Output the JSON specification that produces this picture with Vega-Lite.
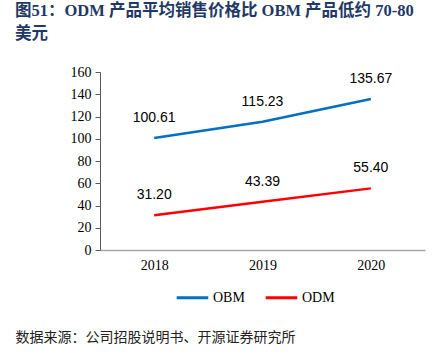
{
  "$schema": "https://vega.github.io/schema/vega-lite/v6.json",
  "autosize": "none",
  "width": 325,
  "height": 178,
  "padding": {"left": 100, "top": 72, "right": 18, "bottom": 104},
  "background": "white",
  "title": {
    "text": ["图51：ODM 产品平均销售价格比 OBM 产品低约 70-80", "美元"],
    "anchor": "start",
    "frame": "group",
    "dx": -85,
    "dy": -19,
    "font": "Liberation Serif, Noto Sans CJK SC",
    "fontSize": 16.5,
    "fontWeight": "bold",
    "color": "#1F3864",
    "lineHeight": 23
  },
  "data": {
    "values": [
      {"year": "2018", "series": "OBM", "value": 100.61},
      {"year": "2019", "series": "OBM", "value": 115.23},
      {"year": "2020", "series": "OBM", "value": 135.67},
      {"year": "2018", "series": "ODM", "value": 31.20},
      {"year": "2019", "series": "ODM", "value": 43.39},
      {"year": "2020", "series": "ODM", "value": 55.40}
    ]
  },
  "encoding": {
    "x": {
      "field": "year",
      "type": "ordinal",
      "scale": {"type": "point", "padding": 0.5},
      "axis": {
        "title": "数据来源：公司招股说明书、开源证券研究所",
        "titleFont": "Noto Sans CJK SC",
        "titleFontSize": 14,
        "titleFontWeight": "normal",
        "titleColor": "#222222",
        "titleAnchor": "start",
        "titleAlign": "left",
        "titleBaseline": "middle",
        "titleX": -85,
        "titleY": 87,
        "labelAngle": 0,
        "labelFont": "Liberation Serif",
        "labelFontSize": 14,
        "labelColor": "#000000",
        "labelPadding": 8,
        "ticks": false,
        "domainColor": "#A6A6A6",
        "domainWidth": 1.5,
        "grid": false
      }
    },
    "y": {
      "field": "value",
      "type": "quantitative",
      "scale": {"domain": [0, 160]},
      "axis": {
        "title": null,
        "values": [0, 20, 40, 60, 80, 100, 120, 140, 160],
        "labelFont": "Liberation Serif",
        "labelFontSize": 14,
        "labelColor": "#000000",
        "labelPadding": 4,
        "tickSize": 5,
        "tickColor": "#595959",
        "domainColor": "#595959",
        "grid": false
      }
    },
    "color": {
      "field": "series",
      "type": "nominal",
      "scale": {"domain": ["OBM", "ODM"], "range": ["#0070C0", "#FF0000"]},
      "legend": {
        "title": null,
        "orient": "none",
        "direction": "horizontal",
        "legendX": 75,
        "legendY": 208,
        "symbolType": "stroke",
        "symbolSize": 1000,
        "symbolStrokeWidth": 3,
        "labelFont": "Liberation Serif",
        "labelFontSize": 14,
        "labelColor": "#000000",
        "labelOffset": 3,
        "columnPadding": 14
      }
    }
  },
  "layer": [
    {"mark": {"type": "line", "strokeWidth": 2.5}},
    {
      "mark": {"type": "text", "dy": -20, "font": "Liberation Sans", "fontSize": 14, "color": "#000000"},
      "encoding": {
        "text": {"field": "value", "type": "quantitative", "format": ".2f"},
        "color": {"value": "#000000"}
      }
    }
  ],
  "config": {"view": {"stroke": null}}
}
